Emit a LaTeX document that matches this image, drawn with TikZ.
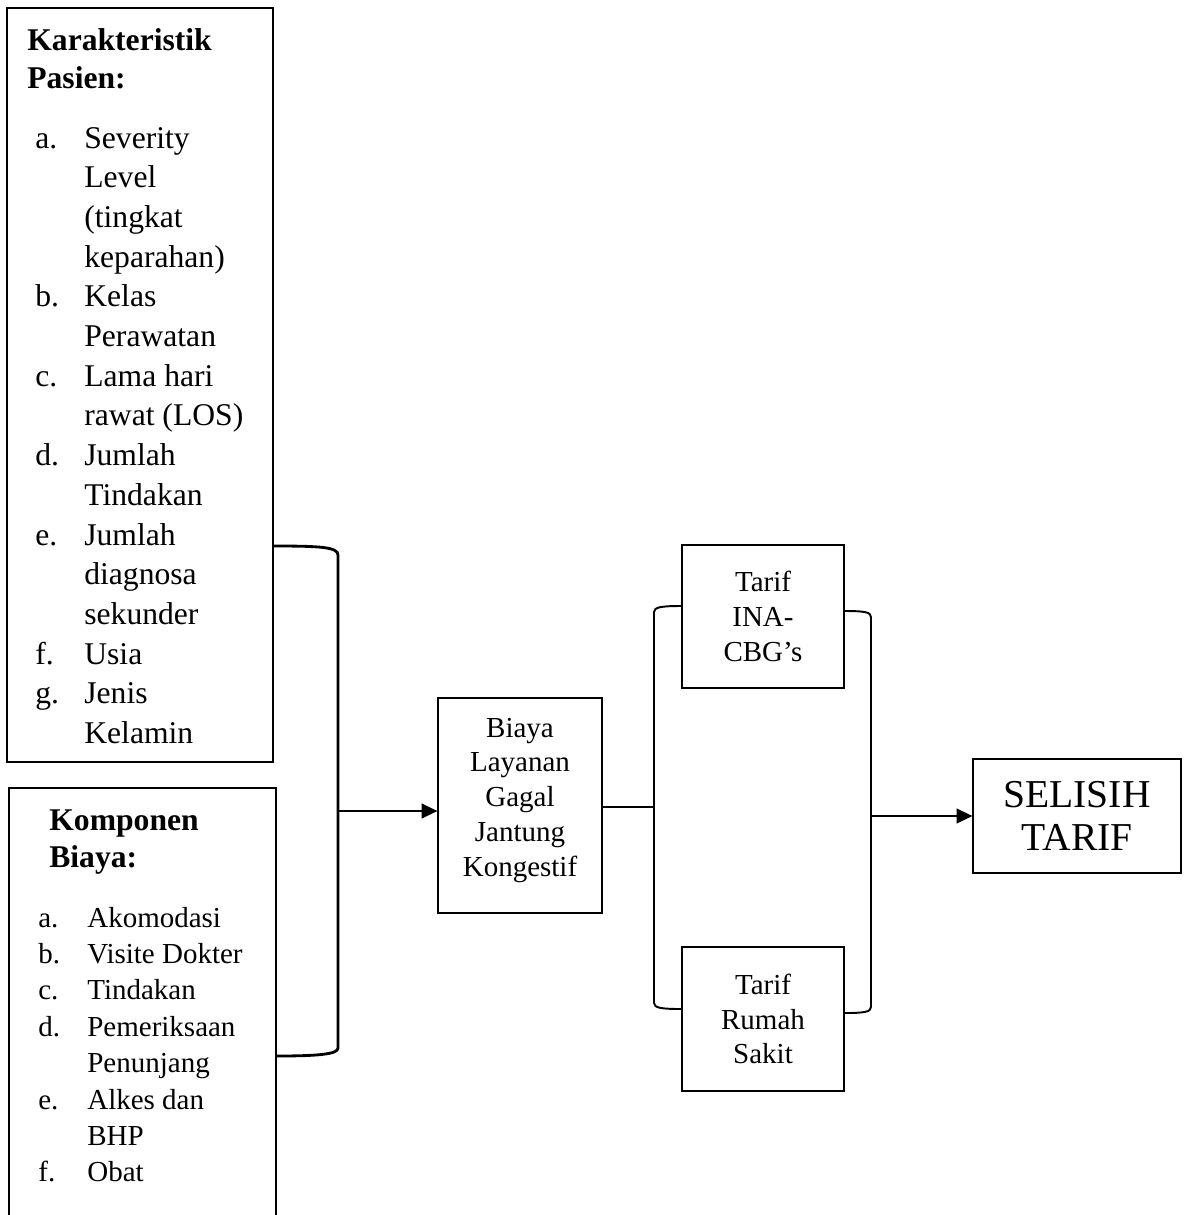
\documentclass[tikz,border=0pt]{standalone}
\usepackage{fontspec}
\setmainfont{Liberation Serif}
\usetikzlibrary{arrows.meta}
\tikzset{
  box/.style={draw, line width=0.75pt, inner sep=0pt},
  head/.style={inner sep=0pt, anchor=base west, font=\fontsize{18}{21.6}\selectfont\bfseries},
  itemA/.style={inner sep=0pt, anchor=base west, font=\fontsize{18}{21.6}\selectfont},
  itemB/.style={inner sep=0pt, anchor=base west, font=\fontsize{16.5}{19.8}\selectfont},
  midtext/.style={inner sep=0pt, align=center, font=\fontsize{16.5}{19.8}\selectfont},
  bigtext/.style={inner sep=0pt, align=center, font=\fontsize{22.5}{24.4}\selectfont},
  arr/.style={line width=0.75pt, -{Triangle[length=9pt,width=8.5pt]}},
  bracketA/.style={line width=1.6pt},
  bracketB/.style={line width=1.1pt}
}
\begin{document}
\begin{tikzpicture}[x=0.02cm, y=-0.02cm]
\useasboundingbox (0,0) rectangle (1187,1215);
% boxes
\node[box, minimum width=5.32cm, minimum height=15.08cm] (kar) at (140,385) {};
\node[box, minimum width=5.34cm, minimum height=9.4cm] (kom) at (142.5,1023) {};
\node[box, minimum width=3.28cm, minimum height=4.3cm] (biaya) at (520,805.5) {};
\node[box, minimum width=3.24cm, minimum height=2.86cm] (ina) at (763,616.5) {};
\node[box, minimum width=3.24cm, minimum height=2.88cm] (rs) at (763,1019) {};
\node[box, minimum width=4.16cm, minimum height=2.28cm] (sel) at (1077,816) {};
% karakteristik pasien
\node[head] (karH1) at (27,50) {Karakteristik};
\node[head] (karH2) at (27,88) {Pasien:};
\foreach \lab/\itm [count=\i from 0] in {a./Severity, /Level, /{(tingkat}, /keparahan),
  b./Kelas, /Perawatan, c./Lama hari, /rawat (LOS), d./Jumlah, /Tindakan,
  e./Jumlah, /diagnosa, /sekunder, f./Usia, g./Jenis, /Kelamin}{
  \node[itemA] (kl\i) at (35,{148+39.7*\i}) {\lab};
  \node[itemA] (kt\i) at (84,{148+39.7*\i}) {\itm};
}
% komponen biaya
\node[head] (komH1) at (49,830) {Komponen};
\node[head] (komH2) at (49,867) {Biaya:};
\foreach \lab/\itm [count=\i from 0] in {a./Akomodasi, b./Visite Dokter, c./Tindakan,
  d./Pemeriksaan, /Penunjang, e./Alkes dan, /BHP, f./Obat}{
  \node[itemB] (ml\i) at (38,{927+36.4*\i}) {\lab};
  \node[itemB] (mt\i) at (87,{927+36.4*\i}) {\itm};
}
% middle and right texts
\node[midtext, yshift=3pt] (biayaT) at (biaya.center) {Biaya\\Layanan\\Gagal\\Jantung\\Kongestif};
\node[midtext] (inaT) at (ina.center) {Tarif\\INA-\\CBG’s};
\node[midtext] (rsT) at (rs.center) {Tarif\\Rumah\\Sakit};
\node[bigtext] (selT) at (sel.center) {SELISIH\\TARIF};
% brackets and arrows
\coordinate (b1top) at (kar.east |- 0,546);
\coordinate (b1bot) at (kom.east |- 0,1056);
\coordinate (b1mid) at (338,811);
\draw[bracketA] (b1top) .. controls (320,546) and (338,547) .. (338,555) -- (338,1048)
  .. controls (338,1054) and (320,1056) .. (b1bot);
\draw[arr] (b1mid) -- (biaya.west |- b1mid);
\coordinate (b2mid) at (654,807);
\draw[line width=0.75pt] (biaya.east |- b2mid) -- (b2mid);
\coordinate (b2lt) at (ina.west |- 0,606);
\coordinate (b2lb) at (rs.west |- 0,1009);
\draw[bracketB] (b2lt) .. controls (662,606) and (654,607) .. (654,612) -- (654,1003)
  .. controls (654,1008) and (662,1009) .. (b2lb);
\coordinate (b2rt) at (ina.east |- 0,611);
\coordinate (b2rb) at (rs.east |- 0,1013);
\draw[bracketB] (b2rt) .. controls (864,611) and (871,612) .. (871,617) -- (871,1007)
  .. controls (871,1012) and (864,1013) .. (b2rb);
\coordinate (b3mid) at (872,816);
\draw[arr] (b3mid) -- (sel.west |- b3mid);
\end{tikzpicture}
\end{document}
